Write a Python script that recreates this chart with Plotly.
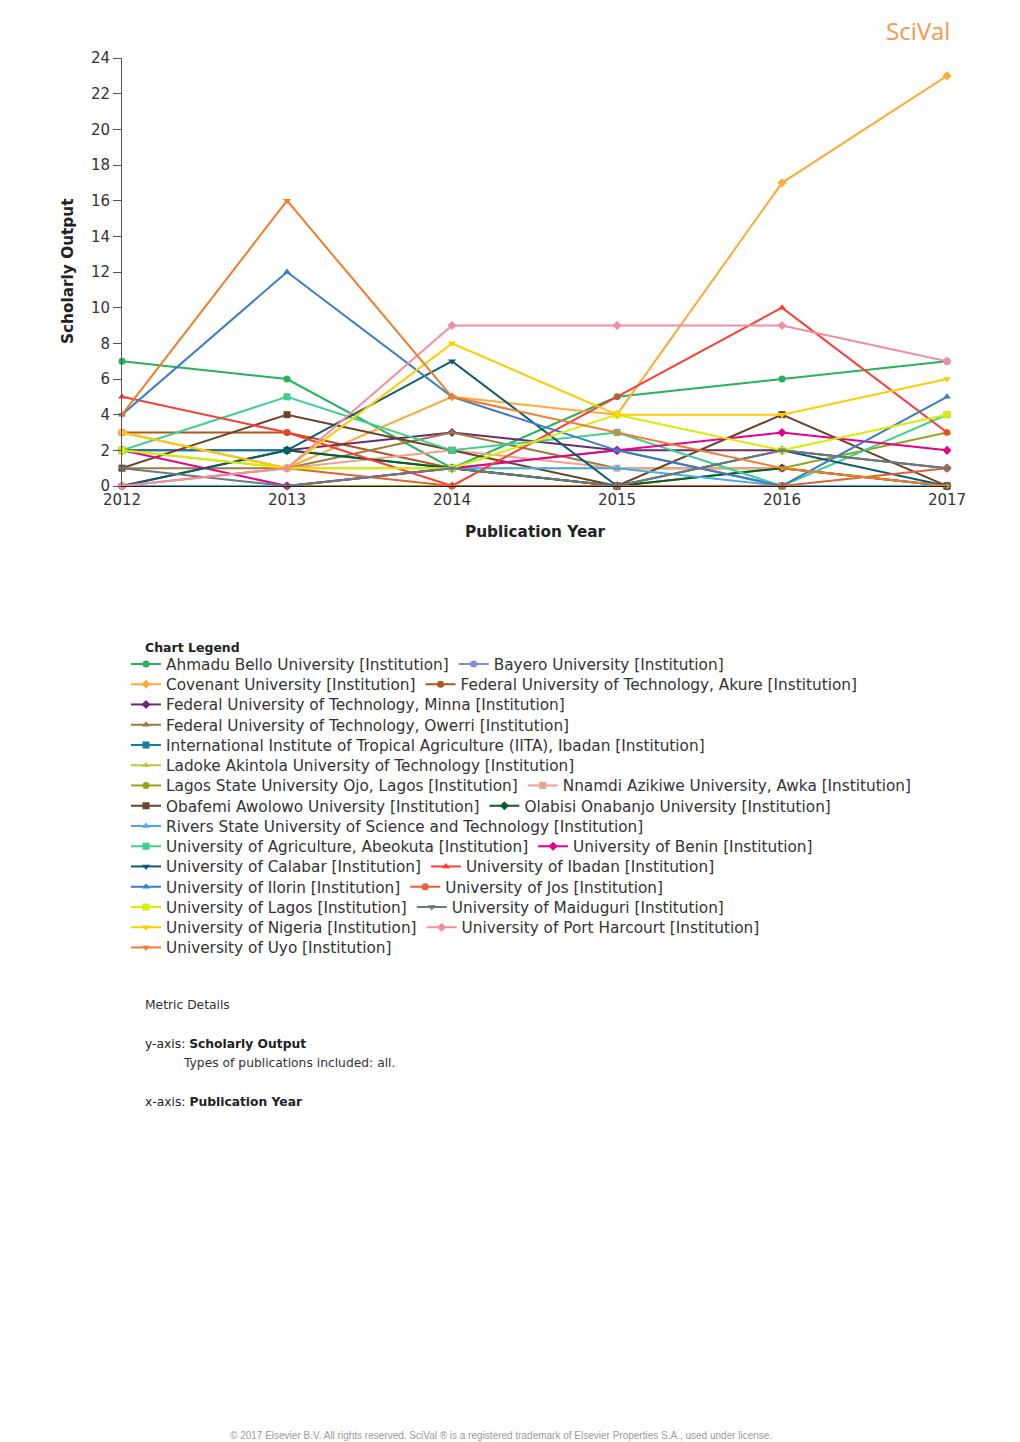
import plotly.graph_objects as go

# ---------------- data ----------------
YEARS = [2012, 2013, 2014, 2015, 2016, 2017]

AHMADU_BELLO = [7, 6, 1, 5, 6, 7]
BAYERO = [0, 0, 1, 2, 0, 0]
COVENANT = [3, 1, 5, 4, 17, 23]
FUT_AKURE = [3, 3, 1, 0, 0, 0]
FUT_MINNA = [2, 2, 3, 2, 2, 1]
FUT_OWERRI = [1, 1, 3, 1, 1, 0]
IITA_IBADAN = [2, 2, 1, 0, 0, 0]
LADOKE_AKINTOLA = [2, 1, 1, 1, 1, 0]
LAGOS_STATE = [0, 0, 0, 0, 1, 3]
NNAMDI_AZIKIWE = [3, 1, 2, 1, 1, 0]
OBAFEMI_AWOLOWO = [1, 4, 2, 0, 4, 0]
OLABISI_ONABANJO = [0, 2, 1, 0, 1, 0]
RIVERS_STATE = [0, 0, 1, 1, 0, 0]
AGRIC_ABEOKUTA = [2, 5, 2, 3, 0, 4]
BENIN = [2, 0, 1, 2, 3, 2]
CALABAR = [0, 2, 7, 0, 2, 0]
IBADAN = [5, 3, 0, 5, 10, 3]
ILORIN = [4, 12, 5, 2, 0, 5]
JOS = [0, 1, 0, 0, 0, 1]
LAGOS = [2, 1, 1, 4, 2, 4]
MAIDUGURI = [1, 0, 1, 0, 2, 1]
NIGERIA = [3, 1, 8, 4, 4, 6]
PORT_HARCOURT = [0, 1, 9, 9, 9, 7]
UYO = [4, 16, 5, 3, 1, 0]

NAMES = [
    "Ahmadu Bello University [Institution]",
    "Bayero University [Institution]",
    "Covenant University [Institution]",
    "Federal University of Technology, Akure [Institution]",
    "Federal University of Technology, Minna [Institution]",
    "Federal University of Technology, Owerri [Institution]",
    "International Institute of Tropical Agriculture (IITA), Ibadan [Institution]",
    "Ladoke Akintola University of Technology [Institution]",
    "Lagos State University Ojo, Lagos [Institution]",
    "Nnamdi Azikiwe University, Awka [Institution]",
    "Obafemi Awolowo University [Institution]",
    "Olabisi Onabanjo University [Institution]",
    "Rivers State University of Science and Technology [Institution]",
    "University of Agriculture, Abeokuta [Institution]",
    "University of Benin [Institution]",
    "University of Calabar [Institution]",
    "University of Ibadan [Institution]",
    "University of Ilorin [Institution]",
    "University of Jos [Institution]",
    "University of Lagos [Institution]",
    "University of Maiduguri [Institution]",
    "University of Nigeria [Institution]",
    "University of Port Harcourt [Institution]",
    "University of Uyo [Institution]",
]
VALUES = [
    AHMADU_BELLO, BAYERO, COVENANT, FUT_AKURE, FUT_MINNA, FUT_OWERRI,
    IITA_IBADAN, LADOKE_AKINTOLA, LAGOS_STATE, NNAMDI_AZIKIWE, OBAFEMI_AWOLOWO,
    OLABISI_ONABANJO, RIVERS_STATE, AGRIC_ABEOKUTA, BENIN, CALABAR, IBADAN,
    ILORIN, JOS, LAGOS, MAIDUGURI, NIGERIA, PORT_HARCOURT, UYO,
]

Y_TICKS = list(range(0, 25, 2))

# ---------------- styles ----------------
COLORS = [
    "#27b35a", "#7f8fd4", "#ffaa33", "#b0561e", "#6e2a6e", "#9c7c3c",
    "#12809e", "#c9c23f", "#97a41a", "#f0a090", "#6b4428", "#0b5c2c",
    "#45aee8", "#3ed08c", "#e8008a", "#0d5b6e", "#ff3a33", "#3b7cc9",
    "#e2622c", "#d6ee00", "#6b7b7b", "#ffcc00", "#f28ea0", "#f27c2c",
]
SYMBOLS = [
    "circle", "circle", "diamond", "circle", "diamond", "triangle-up",
    "square", "triangle-up", "circle", "square", "square", "diamond",
    "triangle-up", "square", "diamond", "triangle-down", "triangle-up",
    "triangle-up", "circle", "square", "triangle-down", "triangle-down",
    "diamond", "triangle-down",
]
# legend items per row (flowing legend layout)
LEGEND_ROW_SIZES = [2, 2, 1, 1, 1, 1, 2, 2, 1, 2, 2, 2, 2, 2, 1]

W, H = 1020, 1442
L, R, T, B = 122, 73, 58, 956
PW, PH = W - L - R, H - T - B
FONT = "DejaVu Sans"


def px_x(x):
    return (x - L) / PW


def px_y(y):
    return (H - B - y) / PH


legend_keys = []
for r, n in enumerate(LEGEND_ROW_SIZES):
    key = "legend" if r == 0 else f"legend{r + 1}"
    legend_keys.extend([key] * n)

fig = go.Figure()
for name, vals, col, sym, lk in zip(NAMES, VALUES, COLORS, SYMBOLS, legend_keys):
    fig.add_trace(go.Scatter(
        x=YEARS, y=vals, name=name, mode="lines+markers",
        line=dict(color=col, width=2),
        marker=dict(color=col, symbol=sym, size=7),
        cliponaxis=False, legend=lk,
    ))

layout_legends = {}
row_top = 664
row_step = 20.25
for r in range(len(LEGEND_ROW_SIZES)):
    key = "legend" if r == 0 else f"legend{r + 1}"
    layout_legends[key] = dict(
        orientation="h", xref="container", yref="container",
        x=126 / W, xanchor="left",
        y=1 - (row_top + r * row_step) / H, yanchor="middle",
        font=dict(family=FONT, size=15.3, color="#333333"),
        bgcolor="rgba(0,0,0,0)", borderwidth=0,
        itemsizing="trace", traceorder="normal",
    )

fig.update_layout(
    width=W, height=H,
    margin=dict(l=L, r=R, t=T, b=B, autoexpand=False),
    paper_bgcolor="white", plot_bgcolor="white",
    font=dict(family=FONT, color="#333333"),
    showlegend=True,
    xaxis=dict(
        range=[2012, 2017], tickvals=YEARS, ticktext=[str(y) for y in YEARS],
        showgrid=False, zeroline=False, showline=True, linecolor="#222222",
        linewidth=1, ticks="inside", ticklen=4, tickcolor="#555555",
        tickfont=dict(family=FONT, size=15, color="#333333"), automargin=False,
    ),
    yaxis=dict(
        range=[0, 24], tickvals=Y_TICKS, showgrid=False, zeroline=False,
        showline=True, linecolor="#555555", linewidth=1, ticks="outside",
        ticklen=8, tickcolor="#555555",
        tickfont=dict(family=FONT, size=15, color="#333333"), automargin=False,
    ),
    **layout_legends,
)

ann = [
    dict(text="<b>Scholarly Output</b>", x=px_x(68), y=px_y(271), textangle=-90,
         font=dict(family=FONT, size=15.3, color="#222222")),
    dict(text="<b>Publication Year</b>", x=px_x(535), y=px_y(532),
         font=dict(family=FONT, size=15.3, color="#222222")),
    dict(text="SciVal", x=px_x(918), y=px_y(30),
         font=dict(family="Open Sans", size=24, color="#f39a4b")),
    dict(text="<b>Chart Legend</b>", x=px_x(143), y=px_y(647), xanchor="left",
         font=dict(family=FONT, size=12.5, color="#222222")),
    dict(text="Metric Details", x=px_x(143), y=px_y(1005), xanchor="left",
         font=dict(family=FONT, size=12.3, color="#333333")),
    dict(text="y-axis: <b>Scholarly Output</b>", x=px_x(143), y=px_y(1044), xanchor="left",
         font=dict(family=FONT, size=12.3, color="#222222")),
    dict(text="Types of publications included: all.", x=px_x(181), y=px_y(1063), xanchor="left",
         font=dict(family=FONT, size=12.3, color="#333333")),
    dict(text="x-axis: <b>Publication Year</b>", x=px_x(143), y=px_y(1102), xanchor="left",
         font=dict(family=FONT, size=12.3, color="#222222")),
    dict(text="\u00a9 2017 Elsevier B.V. All rights reserved. SciVal \u00ae is a registered trademark of Elsevier Properties S.A., used under license.",
         x=px_x(501), y=px_y(1435),
         font=dict(family="Liberation Sans", size=10, color="#9a9a9a")),
]
for a in ann:
    a.setdefault("xanchor", "center")
    a.update(xref="paper", yref="paper", showarrow=False, yanchor="middle")
fig.update_layout(annotations=ann)

fig.write_html("out.html", config={"displayModeBar": False},
               post_script="document.body.style.margin='0';")
